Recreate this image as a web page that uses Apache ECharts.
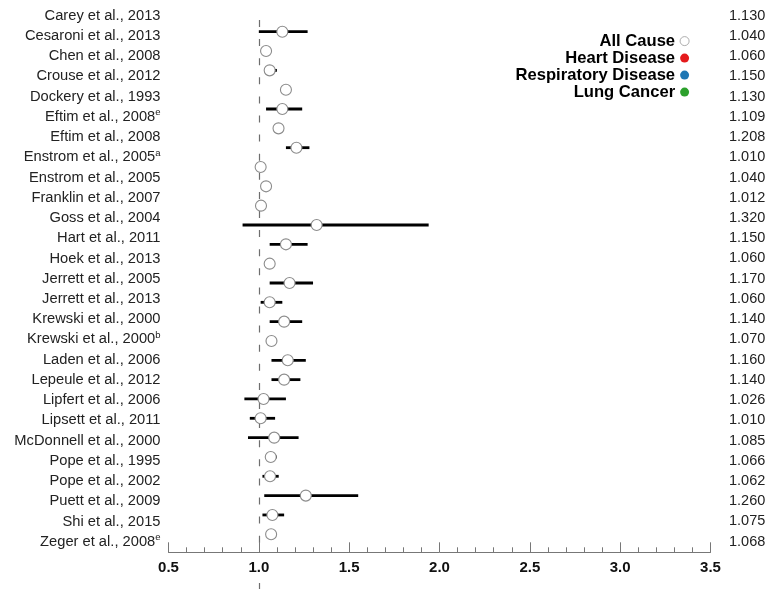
<!DOCTYPE html>
<html>
<head>
<meta charset="utf-8">
<script src="https://cdn.jsdelivr.net/npm/echarts@6/dist/echarts.min.js"></script>
<style>
  html, body { margin: 0; padding: 0; background: #fff; }
  #chart { width: 772px; height: 589px; }
</style>
</head>
<body>
<div id="chart"></div>
<script>
// studies, top to bottom
var studies = [
  'Carey et al., 2013', 'Cesaroni et al., 2013', 'Chen et al., 2008', 'Crouse et al., 2012',
  'Dockery et al., 1993', 'Eftim et al., 2008', 'Eftim et al., 2008', 'Enstrom et al., 2005',
  'Enstrom et al., 2005', 'Franklin et al., 2007', 'Goss et al., 2004', 'Hart et al., 2011',
  'Hoek et al., 2013', 'Jerrett et al., 2005', 'Jerrett et al., 2013', 'Krewski et al., 2000',
  'Krewski et al., 2000', 'Laden et al., 2006', 'Lepeule et al., 2012', 'Lipfert et al., 2006',
  'Lipsett et al., 2011', 'McDonnell et al., 2000', 'Pope et al., 1995', 'Pope et al., 2002',
  'Puett et al., 2009', 'Shi et al., 2015', 'Zeger et al., 2008'
];
// superscript footnote letters
var notes = ['', '', '', '', '', 'e', '', 'a', '', '', '', '', '', '', '', '', 'b', '', '', '', '', '', '', '', '', '', 'e'];
// relative risk, all cause
var rr = [1.130, 1.040, 1.060, 1.150, 1.130, 1.109, 1.208, 1.010, 1.040, 1.012, 1.320, 1.150, 1.060, 1.170,
  1.060, 1.140, 1.070, 1.160, 1.140, 1.026, 1.010, 1.085, 1.066, 1.062, 1.260, 1.075, 1.068];
// confidence interval (null = not shown)
var ciLow = [1.00, null, 1.04, null, 1.04, null, 1.15, null, null, null, 0.91, 1.06, null, 1.06,
  1.01, 1.06, 1.04, 1.07, 1.07, 0.92, 0.95, 0.94, 1.04, 1.02, 1.03, 1.02, null];
var ciHigh = [1.27, null, 1.10, null, 1.24, null, 1.28, null, null, null, 1.94, 1.27, null, 1.30,
  1.13, 1.24, 1.10, 1.26, 1.23, 1.15, 1.09, 1.22, 1.10, 1.11, 1.55, 1.14, null];
var legendNames = ['All Cause', 'Heart Disease', 'Respiratory Disease', 'Lung Cancer'];
var legendColors = ['#ffffff', '#e41a1c', '#1f77b4', '#2ca02c'];

var font = 'Liberation Sans, Arial, sans-serif';

// marker rows sit a little lower than the label rows
var rowTop = 31.7, rowStep = 19.33, plotTop = 20, axisY = 552.3;
var yMin = (plotTop - rowTop) / rowStep;
var yMax = (axisY - rowTop) / rowStep;

var points = rr.map(function (v, i) { return [v, i]; });
var bars = [];
rr.forEach(function (v, i) {
  if (ciLow[i] != null) bars.push([ciLow[i], ciHigh[i], i]);
});

var chart = echarts.init(document.getElementById('chart'));

var series = [
  {
    name: 'ci', type: 'custom', xAxisIndex: 0, yAxisIndex: 0,
    data: bars, encode: { x: [0, 1], y: 2 }, z: 3, silent: true,
    renderItem: function (params, api) {
      var a = api.coord([api.value(0), api.value(2)]);
      var b = api.coord([api.value(1), api.value(2)]);
      return {
        type: 'line',
        shape: { x1: a[0], y1: a[1], x2: b[0], y2: b[1] },
        style: { stroke: '#000', lineWidth: 2.8 }
      };
    },
    markLine: {
      silent: true, symbol: 'none', label: { show: false }, z: 1,
      lineStyle: { type: [7, 12.1], color: '#6e6e6e', width: 1.2 },
      data: [[{ coord: [1, yMin] }, { coord: [1, yMax] }]]
    }
  },
  {
    name: legendNames[0], type: 'scatter', xAxisIndex: 0, yAxisIndex: 0,
    data: points, symbol: 'circle', symbolSize: 11, z: 5,
    itemStyle: { color: '#fff', borderColor: '#8c8c8c', borderWidth: 1.1, opacity: 1 },
    emphasis: { disabled: true }
  },
  {
    name: 'stub', type: 'scatter', xAxisIndex: 2, yAxisIndex: 3, data: [],
    markLine: {
      silent: true, symbol: 'none', label: { show: false },
      lineStyle: { type: 'solid', color: '#6e6e6e', width: 1.2 },
      data: [{ xAxis: 1 }]
    }
  }
];
for (var k = 1; k < legendNames.length; k++) {
  series.push({
    name: legendNames[k], type: 'scatter', xAxisIndex: 0, yAxisIndex: 0, data: [],
    itemStyle: { color: legendColors[k], opacity: 1 }
  });
}

var legendData = legendNames.map(function (n, i) {
  return i === 0
    ? { name: n, itemStyle: { color: '#fff', borderColor: '#999', borderWidth: 0.8 } }
    : { name: n };
});

var option = {
  animation: false,
  textStyle: { fontFamily: font },
  legend: {
    data: legendData,
    orient: 'vertical', align: 'right',
    right: 82.5, top: 32.6, padding: 0, itemGap: 0,
    icon: 'circle', itemWidth: 9, itemHeight: 9,
    selectedMode: false,
    textStyle: { fontSize: 16.6, fontWeight: 'bold', color: '#000', lineHeight: 16.7, fontFamily: font }
  },
  grid: [
    { left: 168.5, right: 61.5, top: plotTop, bottom: 589 - axisY },
    { left: 168.5, right: 61.5, top: 5.6, bottom: 37.2 },
    { left: 168.5, right: 61.5, top: 583, bottom: 0 }
  ],
  xAxis: [
    {
      gridIndex: 0, type: 'value', min: 0.5, max: 3.5, interval: 0.5, position: 'bottom',
      axisLine: { show: true, onZero: false, lineStyle: { color: '#777', width: 1 } },
      axisTick: { show: true, inside: true, length: 10, lineStyle: { color: '#777' } },
      minorTick: { show: true, splitNumber: 5, length: 5, lineStyle: { color: '#777' } },
      splitLine: { show: false },
      axisLabel: {
        margin: 8, fontSize: 15, fontWeight: 'bold', color: '#111', fontFamily: font,
        formatter: function (v) { return v.toFixed(1); }
      }
    },
    { gridIndex: 1, type: 'value', min: 0.5, max: 3.5, show: false },
    { gridIndex: 2, type: 'value', min: 0.5, max: 3.5, show: false }
  ],
  yAxis: [
    { gridIndex: 0, type: 'value', inverse: true, min: yMin, max: yMax, show: false },
    {
      gridIndex: 1, type: 'category', data: studies, inverse: true, position: 'left',
      axisLine: { show: false }, axisTick: { show: false },
      axisLabel: {
        interval: 0, margin: 8, color: '#222', fontFamily: font,
        formatter: function (v, i) {
          return notes[i] ? '{n|' + v + '}{s|' + notes[i] + '}' : '{n|' + v + '}';
        },
        rich: {
          n: { fontSize: 14.7, color: '#222', fontFamily: font },
          s: { fontSize: 9.5, color: '#222', fontFamily: font, padding: [0, 0, 8, 0] }
        }
      }
    },
    {
      gridIndex: 1, type: 'category', inverse: true, position: 'right',
      data: rr.map(function (v) { return v.toFixed(3); }),
      axisLine: { show: false }, axisTick: { show: false },
      axisLabel: { interval: 0, margin: 18.5, fontSize: 14.5, color: '#222', fontFamily: font }
    },
    { gridIndex: 2, type: 'value', min: 0, max: 1, show: false }
  ],
  series: series
};

chart.setOption(option);
</script>
</body>
</html>
